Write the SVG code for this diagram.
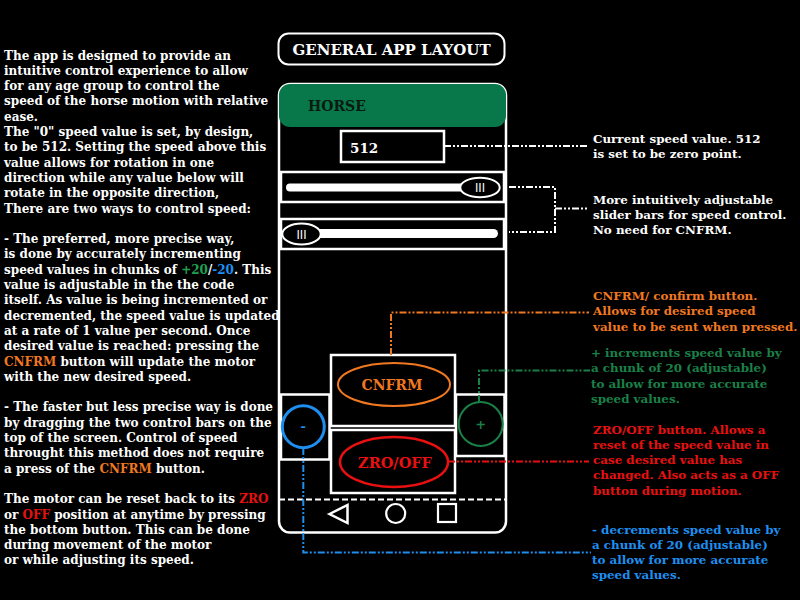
<svg xmlns="http://www.w3.org/2000/svg" width="800" height="600" viewBox="0 0 800 600">
<defs>
<style>
.t{font-family:"DejaVu Serif","Liberation Serif",serif;font-weight:bold;font-size:12px;fill:#fff}
.r{font-size:11.9px}
.or{fill:#f07820}
.gr{fill:#1a8048}
.gl{fill:#22a050}
.bl{fill:#1e8ff0}
.rd{fill:#e81010}
.box{fill:none;stroke:#fff;stroke-width:2.5}
.conn{fill:none;stroke-width:2;stroke-dasharray:7 2 2 2 2 2}
.btn{font-family:"DejaVu Serif","Liberation Serif",serif;font-weight:bold;text-anchor:middle}
</style>
</defs>
<rect width="800" height="600" fill="#000"/>

<g id="left-text">
<text class="t" x="4" y="59.5">
<tspan x="4">The app is designed to provide an</tspan>
<tspan x="4" dy="15.3">intuitive control experience to allow</tspan>
<tspan x="4" dy="15.3">for any age group to control the</tspan>
<tspan x="4" dy="15.3">speed of the horse motion with relative</tspan>
<tspan x="4" dy="15.3">ease.</tspan>
<tspan x="4" dy="15.3">The "0" speed value is set, by design,</tspan>
<tspan x="4" dy="15.3">to be 512. Setting the speed above this</tspan>
<tspan x="4" dy="15.3">value allows for rotation in one</tspan>
<tspan x="4" dy="15.3">direction while any value below will</tspan>
<tspan x="4" dy="15.3">rotate in the opposite direction,</tspan>
<tspan x="4" dy="15.3">There are two ways to control speed:</tspan>
</text>
<text class="t" x="4" y="243.1">
<tspan x="4">- The preferred, more precise way,</tspan>
<tspan x="4" dy="15.3">is done by accurately incrementing</tspan>
<tspan x="4" dy="15.3">speed values in chunks of <tspan class="gl">+20</tspan>/<tspan class="bl">-20</tspan>. This</tspan>
<tspan x="4" dy="15.3">value is adjustable in the the code</tspan>
<tspan x="4" dy="15.3">itself. As value is being incremented or</tspan>
<tspan x="4" dy="15.3">decremented, the speed value is updated</tspan>
<tspan x="4" dy="15.3">at a rate of 1 value per second. Once</tspan>
<tspan x="4" dy="15.3">desired value is reached: pressing the</tspan>
<tspan x="4" dy="15.3"><tspan class="or">CNFRM</tspan> button will update the motor</tspan>
<tspan x="4" dy="15.3">with the new desired speed.</tspan>
</text>
<text class="t" x="4" y="411.4">
<tspan x="4">- The faster but less precise way is done</tspan>
<tspan x="4" dy="15.3">by dragging the two control bars on the</tspan>
<tspan x="4" dy="15.3">top of the screen. Control of speed</tspan>
<tspan x="4" dy="15.3">throught this method does not require</tspan>
<tspan x="4" dy="15.3">a press of the <tspan class="or">CNFRM</tspan> button.</tspan>
</text>
<text class="t" x="4" y="503.2">
<tspan x="4">The motor can be reset back to its <tspan class="rd">ZRO</tspan></tspan>
<tspan x="4" dy="15.3">or <tspan class="rd">OFF</tspan> position at anytime by pressing</tspan>
<tspan x="4" dy="15.3">the bottom button. This can be done</tspan>
<tspan x="4" dy="15.3">during movement of the motor</tspan>
<tspan x="4" dy="15.3">or  while adjusting its speed.</tspan>
</text>
</g>

<g id="title">
<rect x="278.5" y="33.5" width="226" height="31" rx="10" fill="none" stroke="#fff" stroke-width="2"/>
<text class="btn" x="391.5" y="55" font-size="15" fill="#fff">GENERAL APP LAYOUT</text>
</g>

<g id="phone">
<rect x="279" y="84" width="227" height="448.5" rx="11" fill="none" stroke="#fff" stroke-width="2.5"/>
<rect x="279" y="84" width="227" height="43" rx="11" fill="#08784a"/>
<text x="308" y="111" font-family="DejaVu Serif, serif" font-weight="bold" font-size="14" fill="#0a1a10">HORSE</text>
<line x1="279" y1="499.5" x2="506" y2="499.5" stroke="#fff" stroke-width="2" stroke-dasharray="6 3"/>
<polygon points="329.5,514 347.5,505 347.5,523" fill="none" stroke="#fff" stroke-width="2.5" stroke-linejoin="miter"/>
<circle cx="395.7" cy="513.5" r="9.5" fill="none" stroke="#fff" stroke-width="2.2"/>
<rect x="438" y="504" width="18" height="18" fill="none" stroke="#fff" stroke-width="2.2"/>
</g>

<g id="speed-value">
<rect x="341" y="131" width="103" height="31" class="box"/>
<text x="350" y="152.5" font-family="DejaVu Serif, serif" font-weight="bold" font-size="13.5" fill="#fff">512</text>
</g>

<g id="slider-1">
<rect x="281" y="172" width="223" height="30" class="box"/>
<rect x="286" y="183.5" width="200" height="8" rx="4" fill="#fff"/>
<ellipse cx="480" cy="187.5" rx="19.7" ry="9.8" fill="#000" stroke="#fff" stroke-width="2"/>
<text x="480" y="192" font-family="Liberation Sans, Arial, sans-serif" font-size="12" fill="#fff" text-anchor="middle">III</text>
</g>

<g id="slider-2">
<rect x="281" y="219" width="223" height="30" class="box"/>
<rect x="292" y="229" width="206" height="9" rx="4.5" fill="#fff"/>
<ellipse cx="301.5" cy="234" rx="19.2" ry="10.5" fill="#000" stroke="#fff" stroke-width="2"/>
<text x="301.5" y="238.5" font-family="Liberation Sans, Arial, sans-serif" font-size="12" fill="#fff" text-anchor="middle">III</text>
</g>

<g id="cnfrm-button">
<rect x="331" y="355" width="124" height="71" class="box"/>
<ellipse cx="394" cy="384.5" rx="56" ry="21.5" fill="none" stroke="#f07820" stroke-width="2"/>
<text class="btn" x="392" y="390" font-size="14" fill="#f07820">CNFRM</text>
</g>

<g id="zro-off-button">
<rect x="331" y="430" width="124" height="63" class="box"/>
<ellipse cx="394" cy="462" rx="54" ry="25" fill="none" stroke="#e81010" stroke-width="2.5"/>
<text class="btn" x="395" y="468" font-size="14.5" fill="#e81010">ZRO/OFF</text>
</g>

<g id="minus-button">
<rect x="281" y="394.5" width="48.5" height="65" class="box"/>
<circle cx="303.3" cy="426.7" r="21" fill="none" stroke="#1e8ff0" stroke-width="3"/>
<text class="btn" x="303.3" y="431" font-size="13" fill="#1e8ff0">-</text>
</g>

<g id="plus-button">
<rect x="456" y="394.5" width="48.5" height="61.5" class="box"/>
<circle cx="480.7" cy="424" r="22" fill="none" stroke="#1a8048" stroke-width="2"/>
<text class="btn" x="480.7" y="429" font-size="13" fill="#1a8048">+</text>
</g>

<g id="connectors">
<polyline class="conn" stroke="#fff" points="444,146 588,146"/>
<polyline class="conn" stroke="#fff" points="509,187 555,187 555,232 509,232"/>
<polyline class="conn" stroke="#fff" points="555,208.5 589,208.5"/>
<polyline class="conn" stroke="#f07820" points="391,355 391,312.5 589,312.5"/>
<polyline class="conn" stroke="#1a8048" points="479,402 479,370.5 590,370.5"/>
<polyline class="conn" stroke="#e81010" points="448,461.5 589,461.5"/>
<polyline class="conn" stroke="#1e8ff0" points="303.3,448 303.3,552.5 591,552.5"/>
</g>

<g id="right-text">
<text class="t r" x="593" y="142.8"><tspan x="593">Current speed value. 512</tspan><tspan x="593" dy="15">is set to be zero point.</tspan></text>
<text class="t r" x="593" y="203.8"><tspan x="593">More intuitively adjustable</tspan><tspan x="593" dy="15.2">slider bars for speed control.</tspan><tspan x="593" dy="15.2">No need for CNFRM.</tspan></text>
<text class="t r or" x="593" y="299.5"><tspan x="593">CNFRM/ confirm button.</tspan><tspan x="593" dy="15.6">Allows for desired speed</tspan><tspan x="593" dy="15.6">value to be sent when pressed.</tspan></text>
<text class="t r gr" x="591" y="356.8"><tspan x="591">+ increments speed value by</tspan><tspan x="591" dy="15.5">a chunk of 20 (adjustable)</tspan><tspan x="591" dy="15.5">to allow for more accurate</tspan><tspan x="591" dy="15.5">speed values.</tspan></text>
<text class="t r rd" x="593" y="433.5"><tspan x="593">ZRO/OFF button. Allows a</tspan><tspan x="593" dy="15.3">reset of the speed value in</tspan><tspan x="593" dy="15.3">case desired value has</tspan><tspan x="593" dy="15.3">changed. Also acts as a OFF</tspan><tspan x="593" dy="15.3">button during motion.</tspan></text>
<text class="t r bl" x="592" y="533.5"><tspan x="592">- decrements speed value by</tspan><tspan x="592" dy="15.3">a chunk of 20 (adjustable)</tspan><tspan x="592" dy="15.3">to allow for more accurate</tspan><tspan x="592" dy="15.3">speed values.</tspan></text>
</g>
</svg>
